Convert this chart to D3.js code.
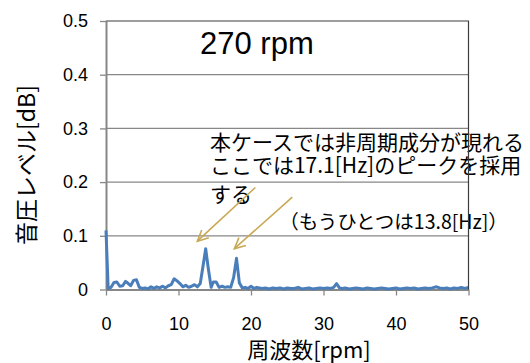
<!DOCTYPE html>
<html>
<head>
<meta charset="utf-8">
<script src="https://cdn.jsdelivr.net/npm/d3@7"></script>
<style>
  body { margin: 0; background: #fff; }
  svg { display: block; }
</style>
</head>
<body>
<div id="chart"></div>
<script>
// spectrum at 270 rpm
var freq = [0, 0.3, 0.7, 1.1, 1.5, 1.9, 2.3, 2.7, 3.0, 3.4, 3.8, 4.2, 4.6, 5.0, 5.4, 5.8,
  6.2, 6.6, 7.0, 7.4, 7.8, 8.2, 8.6, 9.0, 9.4, 9.8, 10.2, 10.6, 11.0, 11.4, 11.8, 12.2,
  12.6, 13.0, 13.4, 13.75, 14.1, 14.5, 14.8, 15.2, 15.6, 16.0, 16.4, 16.8, 17.2, 17.6,
  18.0, 18.4, 18.8, 19.2, 19.6, 20.0, 20.4, 20.8, 21.5, 22.0, 22.5, 23.0, 23.5, 24.0,
  24.5, 25.0, 25.5, 26.0, 26.5, 27.0, 27.5, 28.0, 28.5, 29.0, 29.5, 30.0, 30.5, 31.0,
  31.4, 31.8, 32.2, 32.6, 33.0, 33.5, 34.0, 34.5, 35.0, 35.5, 36.0, 36.5, 37.0, 37.5,
  38.0, 38.5, 39.0, 39.5, 40.0, 40.5, 41.0, 41.5, 42.0, 42.5, 43.0, 43.5, 44.0, 44.5,
  45.0, 45.6, 46.0, 46.5, 47.0, 47.5, 48.0, 48.5, 49.0, 49.5, 50.0];
var level = [0.110, 0.002, 0.004, 0.013, 0.014, 0.006, 0.007, 0.015, 0.012, 0.007, 0.017, 0.018, 0.004, 0.002, 0.003, 0.001,
  0.005, 0.002, 0.005, 0.003, 0.006, 0.003, 0.007, 0.009, 0.020, 0.016, 0.011, 0.005, 0.008, 0.004, 0.006, 0.009,
  0.005, 0.011, 0.045, 0.076, 0.040, 0.004, 0.014, 0.014, 0.004, 0.006, 0.004, 0.005, 0.004, 0.022,
  0.058, 0.012, 0.003, 0.004, 0.002, 0.006, 0.002, 0.004, 0.002, 0.003, 0.001, 0.003, 0.002, 0.003,
  0.001, 0.003, 0.002, 0.002, 0.004, 0.001, 0.002, 0.003, 0.001, 0.002, 0.003, 0.002, 0.003, 0.002,
  0.004, 0.011, 0.003, 0.002, 0.003, 0.001, 0.002, 0.003, 0.002, 0.001, 0.003, 0.002, 0.001, 0.002,
  0.003, 0.002, 0.001, 0.002, 0.003, 0.001, 0.002, 0.003, 0.002, 0.003, 0.001, 0.002, 0.003, 0.002,
  0.003, 0.005, 0.003, 0.002, 0.003, 0.001, 0.003, 0.002, 0.004, 0.002, 0.004];

var xTicks = [0, 10, 20, 30, 40, 50];
var yTicks = [0, 0.1, 0.2, 0.3, 0.4, 0.5];
var yTickLabels = ["0", "0.1", "0.2", "0.3", "0.4", "0.5"];

var title = "270 rpm";
var xLabel = "周波数[rpm]";
var yLabel = "音圧レベル[dB]";
var noteLines = ["本ケースでは非周期成分が現れる", "ここでは17.1[Hz]のピークを採用", "する"];
var noteLineY = [0.260, 0.217, 0.163];
var note2 = "（もうひとつは13.8[Hz]）";
// arrows in data units: [fromX, fromY, toX, toY]
var arrows = [[20.6, 0.190, 12.6, 0.090], [25.7, 0.172, 17.7, 0.076]];

var W = 530, H = 363;
var pLeft = 106, pRight = 468.5, pTop = 21, pBottom = 289.5;
var jp = "'Noto Sans CJK JP', 'Noto Sans', sans-serif";
var num = "'Liberation Sans', Arial, sans-serif";

var x = d3.scaleLinear().domain([0, 50]).range([pLeft, pRight]);
var y = d3.scaleLinear().domain([0, 0.5]).range([pBottom, pTop]);

var svg = d3.select("#chart").append("svg").attr("width", W).attr("height", H);

// grid lines
svg.append("g").selectAll("line").data(yTicks.slice(1, 5)).enter().append("line")
  .attr("x1", pLeft).attr("x2", pRight)
  .attr("y1", function(d){ return y(d); }).attr("y2", function(d){ return y(d); })
  .attr("stroke", "#878787").attr("stroke-width", 1.3);

// axes
svg.append("g").attr("transform", "translate(0," + pBottom + ")")
  .call(d3.axisBottom(x).tickValues(xTicks).tickSize(6).tickPadding(22).tickSizeOuter(0));
svg.append("g").attr("transform", "translate(" + pLeft + ",0)")
  .call(d3.axisLeft(y).tickValues(yTicks).tickSize(6).tickPadding(12).tickSizeOuter(0)
    .tickFormat(function(d, i){ return yTickLabels[i]; }));
svg.selectAll(".domain").attr("stroke", "#878787").attr("stroke-width", 2);
svg.selectAll(".tick line").attr("stroke", "#878787").attr("stroke-width", 1.3);
svg.selectAll(".tick text").attr("fill", "#000").style("font-family", num).style("font-size", "18px");

// spectrum line
var pts = freq.map(function(f, i){ return [f, level[i]]; });
svg.append("path").datum(pts)
  .attr("fill", "none").attr("stroke", "#4a7ebb").attr("stroke-width", 3)
  .attr("stroke-linejoin", "round")
  .attr("d", d3.line().x(function(d){ return x(d[0]); }).y(function(d){ return y(d[1]); }));

// title
svg.append("text").attr("x", x(12.97)).attr("y", y(0.4386))
  .style("font-family", num).style("font-size", "31px").text(title);

// notes
svg.append("g").selectAll("text").data(noteLines).enter().append("text")
  .attr("x", x(14.34)).attr("y", function(d, i){ return y(noteLineY[i]); })
  .style("font-family", jp).style("font-size", "21px").text(function(d){ return d; });
svg.append("text").attr("x", x(23.9)).attr("y", y(0.112))
  .style("font-family", jp).style("font-size", "19.5px").text(note2);

// arrows with open heads
arrows.forEach(function(a){
  var x1 = x(a[0]), y1 = y(a[1]), x2 = x(a[2]), y2 = y(a[3]);
  var ang = Math.atan2(y2 - y1, x2 - x1), L = 12, s = 0.45;
  var g = svg.append("g").attr("stroke", "#c9a855").attr("stroke-width", 1.6).attr("fill", "none");
  g.append("line").attr("x1", x1).attr("y1", y1).attr("x2", x2).attr("y2", y2);
  g.append("path").attr("d", "M" + (x2 - L * Math.cos(ang - s)) + "," + (y2 - L * Math.sin(ang - s)) +
    "L" + x2 + "," + y2 + "L" + (x2 - L * Math.cos(ang + s)) + "," + (y2 - L * Math.sin(ang + s)));
});

// plot border top / right
svg.append("path").attr("d", "M" + pLeft + "," + pTop + "H" + pRight + "V" + pBottom)
  .attr("fill", "none").attr("stroke", "#3c3c3c").attr("stroke-width", 1.2);

// axis labels
svg.append("text").attr("x", 309).attr("y", 358).attr("text-anchor", "middle")
  .style("font-family", jp).style("font-size", "22px").text(xLabel);
svg.append("text").attr("transform", "translate(35,165) rotate(-90)").attr("text-anchor", "middle")
  .style("font-family", jp).style("font-size", "23px").text(yLabel);
</script>
</body>
</html>
